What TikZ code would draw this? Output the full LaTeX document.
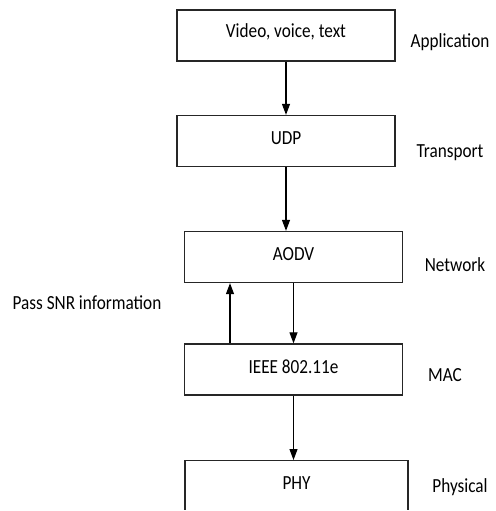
\documentclass[tikz,border=0pt]{standalone}
\usepackage{fontspec}
\setmainfont{Carlito}[FakeStretch=0.86]
\usetikzlibrary{arrows.meta}

\begin{document}
\begin{tikzpicture}[x=1pt, y=-1pt,
        layer/.style={draw=black!85, line width=1.3pt, minimum width=218pt, minimum height=51pt, inner sep=0pt},
        arr/.style={-{Triangle[length=11pt,width=8pt]}, line width=1.1pt},
        lbl/.style={font=\fontsize{20}{24}\selectfont}]
        \useasboundingbox (0,0) rectangle (495,511);
        \clip (0,0) rectangle (495,509);

        \node[layer] (app) at (286,35.5) {};
        \node[lbl] (appt) at (286,32) {Video, voice, text};
        \node[layer] (udp) at (286,141) {};
        \node[lbl] (udpt) at (286,138) {UDP};
        \node[layer] (aodv) at (293.5,257) {};
        \node[lbl] (aodvt) at (293.5,254) {AODV};
        \node[layer] (mac) at (293.5,369.5) {};
        \node[lbl] (mact) at (293.5,367) {IEEE 802.11e};
        \node[layer, anchor=north, minimum width=223pt, minimum height=80pt] (phy) at (296.5,460) {};
        \node[lbl] (phyt) at (296.5,483) {PHY};

        \node[lbl] (l1) at (450,42) {Application};
        \node[lbl] (l2) at (450,153) {Transport};
        \node[lbl] (l3) at (455,265) {Network};
        \node[lbl] (l4) at (445,375) {MAC};
        \node[lbl] (l5) at (460,487) {Physical};
        \node[lbl] (snr) at (87,303) {Pass SNR information};

        \draw[arr] (app.south) -- (app.south |- udp.north);
        \draw[arr] (udp.south) -- (udp.south |- aodv.north);
        \draw[arr] (aodv.south) -- (aodv.south |- mac.north);
        \draw[arr] ([xshift=-63.5pt]mac.north) -- ([xshift=-63.5pt]aodv.south);
        \draw[arr] (mac.south) -- (mac.south |- phy.north);
    \end{tikzpicture}
\end{document}
